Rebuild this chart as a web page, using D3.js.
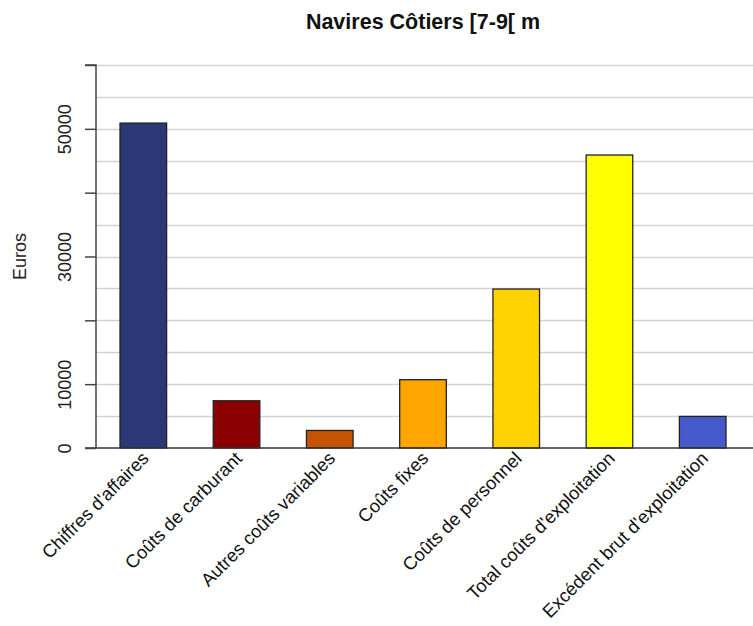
<!DOCTYPE html>
<html>
<head>
<meta charset="utf-8">
<script src="https://cdn.jsdelivr.net/npm/d3@7"></script>
<style>
  html, body { margin: 0; padding: 0; background: #ffffff; }
  svg { display: block; font-family: "Liberation Sans", Arial, sans-serif; }
</style>
</head>
<body>
<svg id="chart" width="753" height="626"></svg>
<script>
const title = "Navires Côtiers [7-9[ m";
const yLabel = "Euros";
const categories = [
  "Chiffres d'affaires",
  "Coûts de carburant",
  "Autres coûts variables",
  "Coûts fixes",
  "Coûts de personnel",
  "Total coûts d'exploitation",
  "Excédent brut d'exploitation"
];
const values = [50900, 7400, 2750, 10700, 24900, 45900, 4950];
const colors = ["#2C3775", "#8B0000", "#C65300", "#FFA500", "#FFD200", "#FFFF00", "#465ACB"];
const tickValues = [0, 10000, 20000, 30000, 40000, 50000, 60000];
const tickLabels = ["0", "10000", "", "30000", "", "50000", ""];
const gridValues = [5000, 10000, 15000, 20000, 25000, 30000, 35000, 40000, 45000, 50000, 55000, 60000];

const svg = d3.select("#chart");
const plot = { left: 96, right: 750, top: 65, bottom: 448 };

const y = d3.scaleLinear().domain([0, 60000]).range([plot.bottom, plot.top]);
const x = d3.scaleBand().domain(categories).range([plot.left, plot.right])
  .paddingInner(0.5).paddingOuter(0.2575);

// Grid lines
svg.append("g").selectAll("line").data(gridValues).join("line")
  .attr("x1", plot.left).attr("x2", 753)
  .attr("y1", d => Math.round(y(d)) + 0.5).attr("y2", d => Math.round(y(d)) + 0.5)
  .attr("stroke", "#d3d3d3").attr("stroke-width", 1.6);

// Bars
svg.append("g").selectAll("rect").data(categories).join("rect")
  .attr("x", d => x(d))
  .attr("width", x.bandwidth())
  .attr("y", (d, i) => y(values[i]))
  .attr("height", (d, i) => y(0) - y(values[i]))
  .attr("fill", (d, i) => colors[i])
  .attr("stroke", "#222")
  .attr("stroke-width", 1.3);

// Baseline
svg.append("line")
  .attr("x1", 85).attr("x2", 753)
  .attr("y1", y(0)).attr("y2", y(0))
  .attr("stroke", "#333").attr("stroke-width", 1.5);

// Y axis
const yAxis = d3.axisLeft(y).tickValues(tickValues).tickSize(11).tickFormat((d, i) => tickLabels[i]);
const gy = svg.append("g").attr("transform", `translate(${plot.left},0)`).call(yAxis);
gy.select(".domain").attr("stroke", "#444").attr("stroke-width", 1.5)
  .attr("d", `M-11,${y(60000)}H0V${y(0)}`);
gy.selectAll(".tick line").attr("stroke", "#444").attr("stroke-width", 1.5);
gy.selectAll(".tick text")
  .attr("x", 0).attr("y", 0).attr("dy", "0.35em")
  .attr("text-anchor", "middle")
  .attr("transform", "translate(-31,0) rotate(-90)")
  .attr("font-size", 18).attr("fill", "#222")
  .attr("font-family", "Liberation Sans, Arial, sans-serif");

// Y label
svg.append("text")
  .attr("transform", `translate(20,${(plot.top + plot.bottom) / 2}) rotate(-90)`)
  .attr("text-anchor", "middle").attr("dy", "0.35em")
  .attr("font-size", 18).attr("fill", "#222")
  .text(yLabel);

// Category labels
svg.append("g").selectAll("text").data(categories).join("text")
  .attr("transform", d => `translate(${x(d) + x.bandwidth() / 2 + 2},${455}) rotate(-45)`)
  .attr("text-anchor", "end").attr("dy", "0.35em")
  .attr("font-size", 18.4).attr("fill", "#111")
  .text(d => d);

// Title
svg.append("text")
  .attr("x", (plot.left + plot.right) / 2).attr("y", 29)
  .attr("text-anchor", "middle")
  .attr("font-size", 21.5).attr("font-weight", "bold").attr("fill", "#111")
  .text(title);
</script>
</body>
</html>
